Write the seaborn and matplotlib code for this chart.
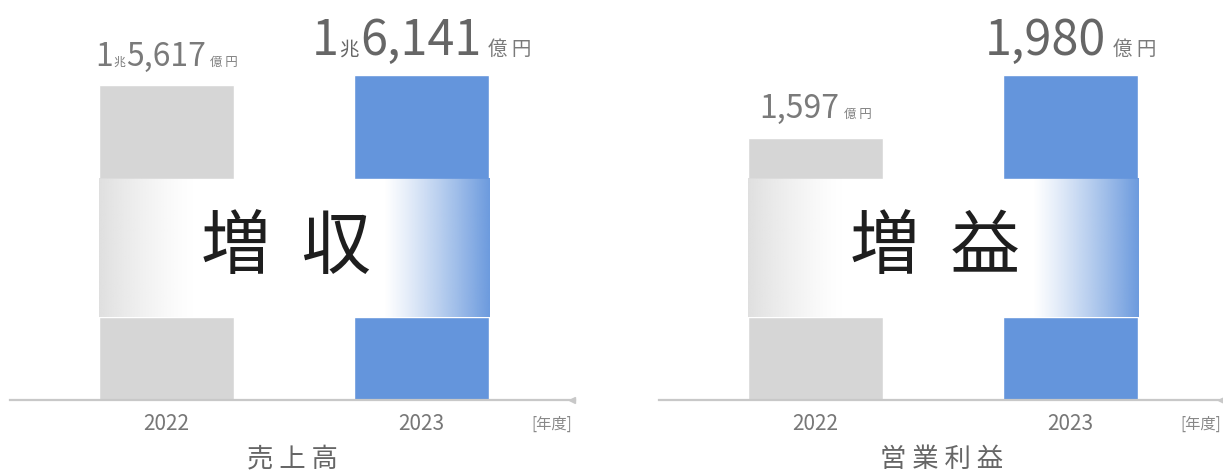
import numpy as np
import matplotlib
matplotlib.use("Agg")
import matplotlib.pyplot as plt
import seaborn as sns
from matplotlib.transforms import offset_copy
from matplotlib.colors import to_rgb

# ---- data (億円) ----
years = ["2022", "2023"]
sales = [15617, 16141]
profit = [1597, 1980]
panel_titles = ["売 上 高", "営 業 利 益"]
badges = ["増  収", "増  益"]
unit_label = "[年度]"

# ---- style ----
sns.set_style("white")
plt.rcParams["font.family"] = ["Noto Sans CJK JP", "DejaVu Sans"]

GRAY = "#d6d6d6"
GRAY_BAND = "#dcdcdc"
BLUE = "#6495dc"
AXIS = "#c8c8c8"

fig = plt.figure(figsize=(12.23, 4.71), dpi=100)
W, H = 1223, 471
axes = [
    fig.add_axes([10 / W, 71 / H, 565 / W, 400 / H]),
    fig.add_axes([659 / W, 71 / H, 565 / W, 400 / H]),
]


def sales_parts(v):
    cho, rest = divmod(v, 10000)
    return [(str(cho), "num"), ("兆", "cho"), (f"{rest:,}", "num"), ("億 円", "unit")]


def profit_parts(v):
    return [(f"{v:,}", "num"), ("億 円", "unit")]


# font sizes / colours for the small (previous year) and large (current year) labels
LABEL_STYLE = {
    False: {"num": (23, "#7a7a7a"), "cho": (8.5, "#7a7a7a"), "unit": (9, "#808080")},
    True: {"num": (35, "#666666"), "cho": (14, "#666666"), "unit": (14, "#7a7a7a")},
}
GAPS = {"num": 0.5, "cho": 0.5, "unit": 3.0}


def value_label(ax, x, y, parts, big, lift_pt=14):
    renderer = fig.canvas.get_renderer()
    texts, widths, gaps = [], [], []
    for j, (s, kind) in enumerate(parts):
        size, color = LABEL_STYLE[big][kind]
        t = ax.text(0, 0, s, fontsize=size, color=color, ha="left", va="baseline",
                    zorder=5)
        w = t.get_window_extent(renderer).width * 72 / fig.dpi
        texts.append(t)
        widths.append(w)
        gaps.append(0 if j == 0 else GAPS[kind] * (1.6 if big else 1.0))
    total = sum(widths) + sum(gaps)
    cursor = -total / 2
    for t, w, g in zip(texts, widths, gaps):
        cursor += g
        t.set_position((x, y))
        t.set_transform(offset_copy(ax.transData, fig=fig, x=cursor, y=lift_pt,
                                    units="points"))
        cursor += w


def gradient(color, alphas):
    rgba = np.zeros((2, len(alphas), 4))
    rgba[..., :3] = to_rgb(color)
    rgba[..., 3] = alphas
    return rgba


datasets = [(sales, sales_parts), (profit, profit_parts)]
t = np.linspace(0, 1, 256)
gray_alpha = np.clip(1 - t / 0.7, 0, 1) ** 1.3 * 0.9
blue_alpha = np.clip((t - 0.22) / 0.78, 0, 1) ** 1.15 * 0.95

for ax, (values, fmt), title, badge in zip(axes, datasets, panel_titles, badges):
    sns.barplot(x=years, y=values, hue=years, palette=[GRAY, BLUE],
                width=0.533, saturation=1, legend=False, ax=ax, zorder=1)

    top = max(values) * 1.23
    band_lo, band_hi = max(values) * 0.255, max(values) * 0.68
    xlo, xhi = -0.614, 1.602

    # white band across both bars with fading ends
    ax.axhspan(band_lo, band_hi, color="white", zorder=2)
    for patch, alpha, col in zip(ax.patches, [gray_alpha, blue_alpha], [GRAY_BAND, BLUE]):
        x0, w = patch.get_x(), patch.get_width()
        ax.imshow(gradient(col, alpha), extent=(x0, x0 + w, band_lo, band_hi),
                  aspect="auto", interpolation="bilinear", zorder=3)

    ax.text(0.47, (band_lo + band_hi) / 2, badge, fontsize=50, color="#1e1e1e",
            ha="center", va="center", zorder=4)

    for i, (patch, v) in enumerate(zip(ax.patches, values)):
        cx = patch.get_x() + patch.get_width() / 2
        value_label(ax, cx, v, fmt(v), big=(i == len(values) - 1))

    ax.set_xlim(xlo, xhi)
    ax.set_ylim(0, top)
    ax.set_yticks([])
    ax.set_ylabel("")
    for side in ["top", "left", "right"]:
        ax.spines[side].set_visible(False)
    ax.spines["bottom"].set_color(AXIS)
    ax.spines["bottom"].set_linewidth(1.6)
    ax.spines["bottom"].set_zorder(6)
    ax.plot([xhi - 0.012], [0], marker="<", color=AXIS, markersize=5,
            clip_on=False, zorder=6)

    ax.tick_params(axis="x", length=0, pad=9, labelsize=15, labelcolor="#777777")
    ax.text(1.51, 0, unit_label, transform=offset_copy(ax.transData, fig=fig, y=-21,
            units="points"), fontsize=11, color="#888888", ha="center", va="baseline")
    ax.set_xlabel(title, fontsize=19, color="#666666", labelpad=8)

fig.savefig("out.png", dpi=100)
